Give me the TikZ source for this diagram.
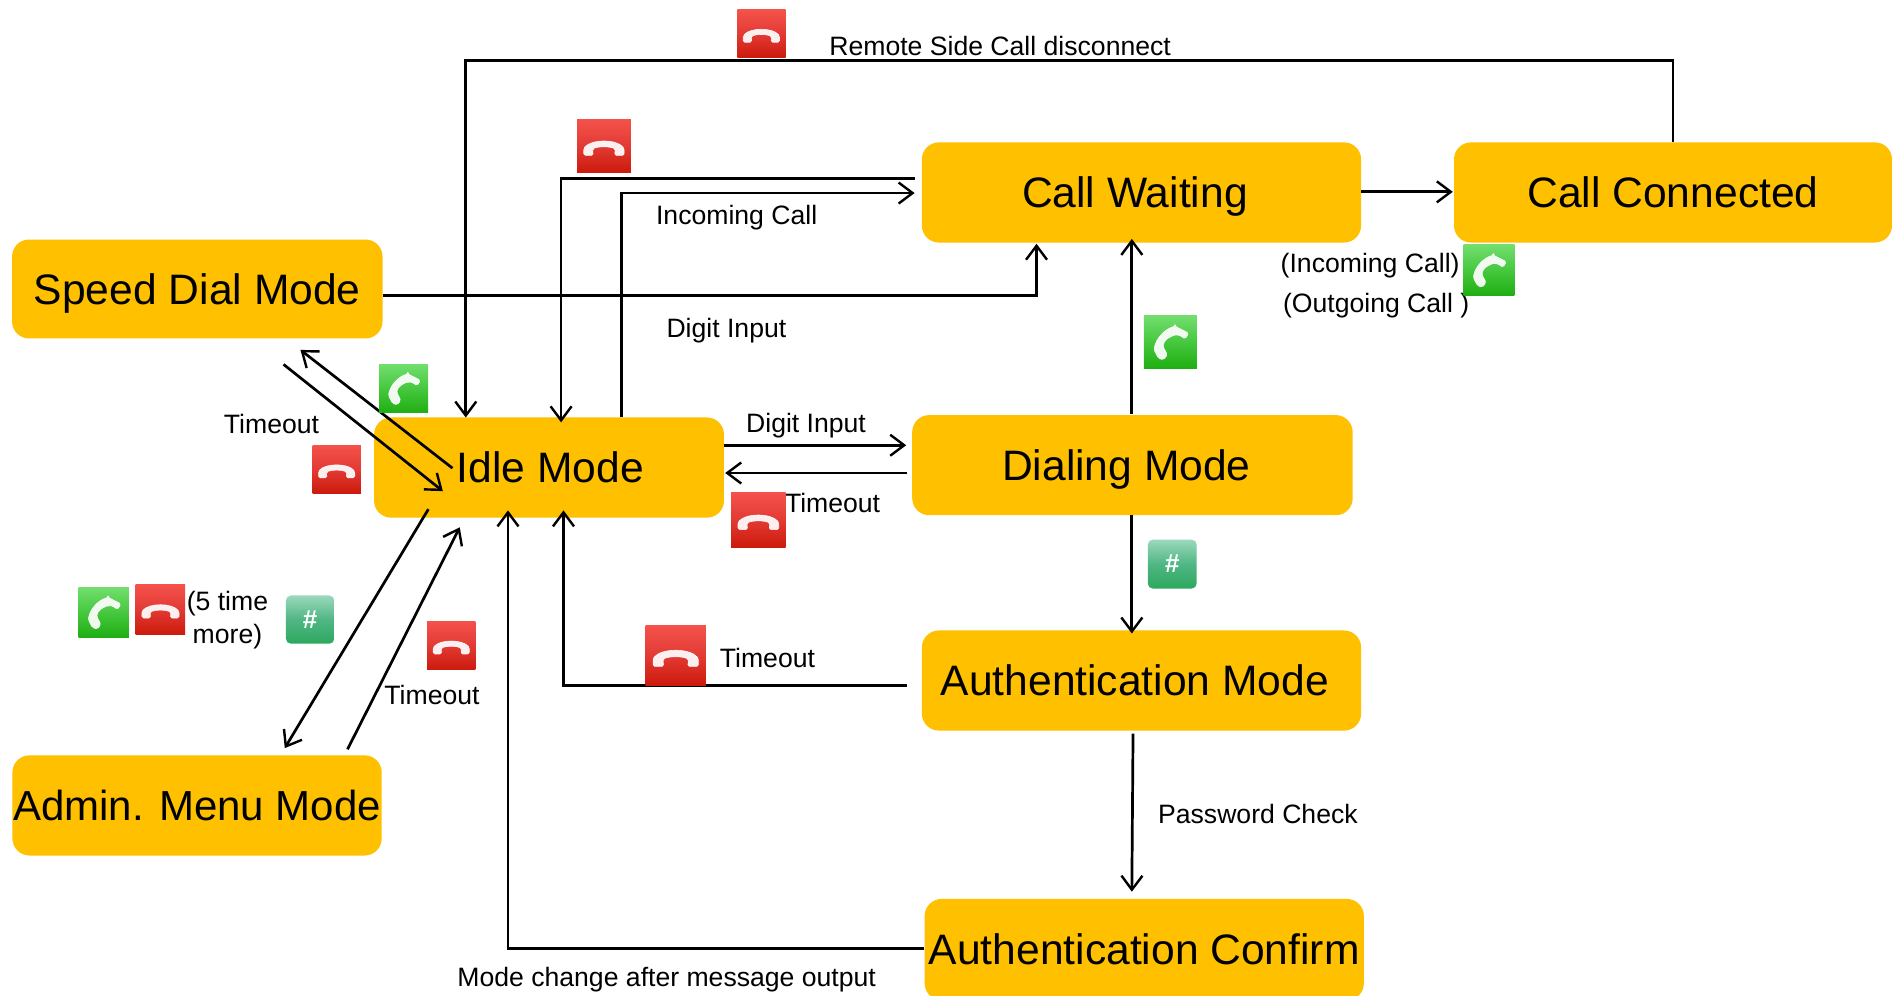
\documentclass[tikz,border=0pt]{standalone}
\usepackage{fontspec}
\setmainfont{Liberation Sans}
\usetikzlibrary{arrows.meta}
\def\u{0.6033pt}
\definecolor{boxfill}{HTML}{FFC000}
\definecolor{redtop}{HTML}{F5524C}
\definecolor{redmid}{HTML}{E23A34}
\definecolor{redbot}{HTML}{CC1A0C}
\definecolor{greentop}{HTML}{72DE6E}
\definecolor{greenmid}{HTML}{46C83E}
\definecolor{greenbot}{HTML}{1FAE12}
\definecolor{hashtop}{HTML}{9AD9BC}
\definecolor{hashmid}{HTML}{50B684}
\definecolor{hashbot}{HTML}{2CA85E}
\tikzset{
  box/.style={fill=boxfill,rounded corners=8.5pt,inner sep=0pt,font=\fontsize{21.3pt}{25pt}\selectfont,text=black,text height=15.3pt,text depth=0pt},
  lbl/.style={inner sep=0pt,font=\fontsize{13.3pt}{16.5pt}\selectfont,text=black,align=center},
  arr/.style={line width=1.35pt,draw=black,-{Straight Barb[length=7pt,width=10.5pt,line width=1.2pt]}},
  handset/.style={fill=white,draw=white,line width=.3pt,rounded corners=.8pt,opacity=.92},
}
\newcommand{\redicon}[3]{%
  \begin{scope}[shift={(#1,#2)},scale=#3/40]
    \shade[top color=redtop,bottom color=redbot,middle color=redmid] (-20,-20) rectangle (20,20);
    \path[handset] (-15,1.6) .. controls (-9,-5.2) and (9,-5.2) .. (15,1.6) -- (15,7) -- (8,7) -- (8.5,2.2) .. controls (4,.2) and (-4,.2) .. (-8.5,2.2) -- (-8,7) -- (-15,7) -- cycle;
  \end{scope}}
\newcommand{\greenicon}[3]{%
  \begin{scope}[shift={(#1,#2)},scale=#3/40]
    \shade[top color=greentop,bottom color=greenbot,middle color=greenmid] (-20,-20) rectangle (20,20);
    \path[handset] (3.5,-11.9) -- (13.7,-6.8) -- (11.1,-2.3) -- (6.8,-5.2) .. controls (1,-6) and (-5.5,-1) .. (-5.5,3.5) -- (-2.3,9.6) -- (-5.3,13.4) -- (-9.1,12.1) -- (-12.4,5.8) .. controls (-11,-3) and (-4,-10) .. (3.5,-11.9) -- cycle;
  \end{scope}}
\newcommand{\hashicon}[4]{%
  \begin{scope}[shift={(#1,#2)},scale=#3/40]
    \shade[rounded corners=2.5pt,top color=hashtop,bottom color=hashbot,middle color=hashmid] (-20,-20) rectangle (20,20);
    \node[inner sep=0pt,text=white,font=\fontsize{13pt}{15pt}\bfseries\selectfont] (#4) at (0,0) {\#};
  \end{scope}}
\begin{document}
\begin{tikzpicture}[x=\u,y=-\u]
\clip (0,0) rectangle (1568,824.7);
\fill[white] (0,0) rectangle (1568,824.7);
% state boxes
\node[box,minimum width={307*\u},minimum height={82*\u}] (speed) at (163.5,239.5) {Speed Dial Mode};
\node[box,minimum width={364*\u},minimum height={83*\u}] (waiting) at (946,159.5) {Call Waiting\kern6.6pt};
\node[box,minimum width={363*\u},minimum height={83*\u}] (connected) at (1386.5,159.5) {Call Connected};
\node[box,minimum width={290*\u},minimum height={83*\u}] (idle) at (455,387.5) {\kern1.2pt Idle Mode};
\node[box,minimum width={365*\u},minimum height={83*\u}] (dialing) at (938.5,385.5) {Dialing Mode\kern6pt};
\node[box,minimum width={364*\u},minimum height={83*\u}] (auth) at (946,564) {Authentication Mode\kern6.6pt};
\node[box,minimum width={306*\u},minimum height={83*\u},font=\fontsize{21pt}{25pt}\selectfont] (admin) at (163.3,667.5) {Admin. Menu Mode};
\node[box,minimum width={364*\u},minimum height={84*\u}] (confirm) at (948.3,787) {Authentication Confirm};
% connector ends
\coordinate (connTop) at (connected.north);
\coordinate (idleA) at (386,346);
\coordinate (idleB) at (465,350);
\coordinate (idleC) at (515,346);
\coordinate (waitL1) at (758,148);
\coordinate (waitL2) at (758,160);
\coordinate (speedR) at (317,245);
\coordinate (waitB) at (859,202);
\coordinate (waitR) at (1128,159);
\coordinate (connL) at (1204,159);
\coordinate (dialT) at (938,343);
\coordinate (waitB2) at (938,198);
\coordinate (dialB) at (938,427);
\coordinate (authT) at (938,525);
\coordinate (idleR1) at (600,369);
\coordinate (dialL1) at (751,369);
\coordinate (dialL2) at (752,392);
\coordinate (idleR2) at (601,392);
\coordinate (authL) at (752,568);
\coordinate (idleD) at (467,423);
\coordinate (authB) at (939,608);
\coordinate (confT) at (938,739);
\coordinate (confL) at (766,786);
\coordinate (idleE) at (421,423);
\coordinate (idleF) at (355,422);
\coordinate (adminA) at (236,620);
\coordinate (adminB) at (288,621);
\coordinate (idleG) at (381,437);
\coordinate (idleH) at (375,388);
\coordinate (speedA) at (249,290);
\coordinate (speedB) at (235,302);
\coordinate (idleI) at (367,407);
% connectors
\draw[arr] (connTop) -- (connTop |- 0,50) -- (idleA |- 0,50) -- (idleA);
\draw[arr] (waitL1) -- (idleB |- waitL1) -- (idleB);
\draw[arr] (idleC) -- (idleC |- waitL2) -- (waitL2);
\draw[arr] (speedR) -- (waitB |- speedR) -- (waitB);
\draw[arr] (waitR) -- (connL);
\draw[arr] (dialT) -- (waitB2);
\draw[arr] (dialB) -- (authT);
\draw[arr] (idleR1) -- (dialL1);
\draw[arr] (dialL2) -- (idleR2);
\draw[arr] (authL) -- (idleD |- authL) -- (idleD);
\draw[arr] (authB) -- (confT);
\draw[arr] (confL) -- (idleE |- confL) -- (idleE);
\draw[arr] (idleF) -- (adminA);
\draw[arr] (adminB) -- (idleG);
\draw[arr] (idleH) -- (speedA);
\draw[arr] (speedB) -- (idleI);
% labels
\node[lbl,anchor=west] (t1) at (687,38) {Remote Side Call disconnect};
\node[lbl] (t2) at (610.5,180) {Incoming Call};
\node[lbl] (t3) at (602,274) {Digit Input};
\node[lbl] (t4) at (668,353) {Digit Input};
\node[lbl] (t5) at (690,417) {Timeout};
\node[lbl] (t6) at (225,351) {Timeout};
\node[lbl] (t7) at (636,545) {Timeout};
\node[lbl] (t8) at (358,576) {Timeout};
\node[lbl] (t9) at (188.5,514) {(5 time\\more)};
\node[lbl] (t10) at (1042.5,675) {Password Check};
\node[lbl] (t11) at (552.5,812) {Mode change after message output};
\node[lbl] (t12) at (1135.5,220) {(Incoming Call)};
\node[lbl] (t13) at (1140.5,253) {(Outgoing Call )};
% key icons
\redicon{631}{28}{40}
\redicon{500.5}{121}{44.5}
\redicon{279}{389}{40}
\redicon{628.5}{431}{45}
\redicon{133}{505}{41}
\redicon{374}{535}{40}
\redicon{560}{543.5}{50}
\greenicon{334.5}{322}{40.5}
\greenicon{1234}{224}{42}
\greenicon{970}{283.5}{44}
\greenicon{86}{507.5}{41.5}
\hashicon{971.5}{467.5}{40.5}{h1}
\hashicon{257}{513.5}{40}{h2}
\end{tikzpicture}
\end{document}
